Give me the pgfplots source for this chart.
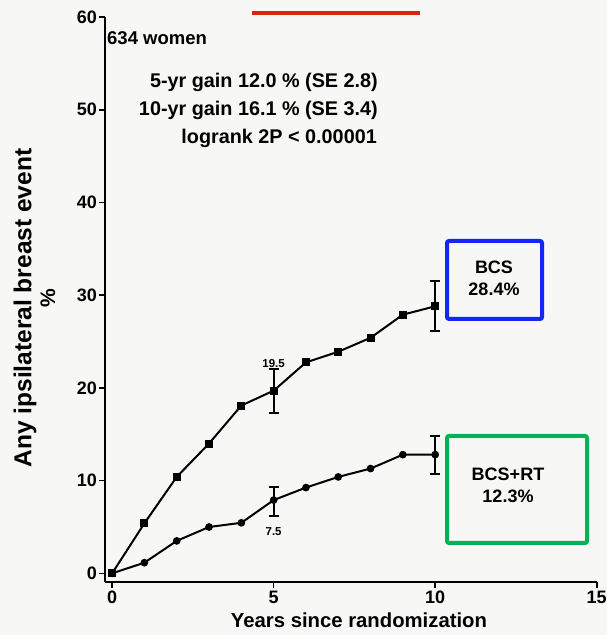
\documentclass[border=0pt]{standalone}
\usepackage{pgfplots}
\pgfplotsset{compat=1.18}
\usepackage{fontspec}
\setmainfont{Liberation Sans}
\definecolor{bcsblue}{RGB}{20,40,245}
\definecolor{rtgreen}{RGB}{0,180,85}
\definecolor{redline}{RGB}{215,35,15}
\definecolor{paper}{RGB}{247,247,245}
\begin{document}
\begin{tikzpicture}[x=1pt,y=1pt]
\fill[paper] (0,0) rectangle (607,635);
\useasboundingbox (0,0) rectangle (607,635);
\begin{axis}[at={(105pt,53.3pt)}, anchor=south west, scale only axis,
  width=491.7pt, height=564.7pt,
  xmin=-0.22, xmax=15, ymin=-0.9, ymax=60,
  axis x line*=bottom, axis y line*=left,
  axis line style={line width=2pt, black},
  xtick={0,5,10,15}, ytick={0,10,...,60},
  tick align=outside, major tick length=6pt,
  tick style={line width=1.6pt, black},
  ticklabel style={font=\fontsize{18}{22}\selectfont\bfseries, inner sep=2pt},
  xticklabel style={yshift=-1.5pt},
  /pgf/number format/assume math mode=true,
  clip=false,
]
\addplot[black, line width=2pt, mark=square*, mark size=3pt, mark options={solid}]
  coordinates {(0,0)(1,5.4)(2,10.4)(3,14.0)(4,18.1)(5,19.7)(6,22.75)(7,23.9)(8,25.4)(9,27.9)(10,28.8)};
\addplot[black, line width=2pt, mark=*, mark size=2.8pt]
  coordinates {(0,0)(1,1.15)(2,3.5)(3,5.0)(4,5.45)(5,7.9)(6,9.25)(7,10.4)(8,11.3)(9,12.8)(10,12.8)};
\addplot[black, line width=1.8pt, only marks, mark=*, mark size=0.5pt,
  error bars/.cd, y dir=both, y explicit,
  error bar style={line width=1.8pt, black},
  error mark options={rotate=90, mark size=5pt, line width=1.8pt, black}]
  coordinates {(5,19.7) += (0,2.3) -= (0,2.4)
               (10,28.8) += (0,2.7) -= (0,2.7)
               (5,7.9) += (0,1.4) -= (0,1.7)
               (10,12.8) += (0,2.0) -= (0,2.1)};
\node[font=\fontsize{11.5}{14}\selectfont\bfseries] at (axis cs:5,22.6) {19.5};
\node[font=\fontsize{11.5}{14}\selectfont\bfseries] at (axis cs:5,4.5) {7.5};
\end{axis}
% annotations
\node[anchor=base west, font=\fontsize{18.5}{24}\selectfont\bfseries, inner sep=0pt] at (107,590) {634 women};
\node[anchor=base east, font=\fontsize{19.8}{24}\selectfont\bfseries, inner sep=0pt] at (378,547) {5-yr gain 12.0 \% (SE 2.8)};
\node[anchor=base east, font=\fontsize{19.8}{24}\selectfont\bfseries, inner sep=0pt] at (378,519) {10-yr gain 16.1 \% (SE 3.4)};
\node[anchor=base east, font=\fontsize{19.8}{24}\selectfont\bfseries, inner sep=0pt] at (377,491) {logrank 2P < 0.00001};
\node[rotate=90, font=\fontsize{24.5}{30}\selectfont\bfseries, inner sep=0pt] at (25,327) {Any ipsilateral breast event};
\node[rotate=90, font=\fontsize{21}{26}\selectfont\bfseries, inner sep=0pt] at (48,337) {\%};
\node[anchor=base, font=\fontsize{20.3}{25}\selectfont\bfseries, inner sep=0pt] at (359,8) {Years since randomization};
\draw[bcsblue, line width=4pt, rounded corners=2pt] (447,316) rectangle (542,394);
\node[align=center, font=\fontsize{18}{22}\selectfont\bfseries, inner sep=0pt] at (494,357) {BCS\\28.4\%};
\draw[rtgreen, line width=4pt, rounded corners=2pt] (447,92) rectangle (587,199);
\node[align=center, font=\fontsize{18}{22}\selectfont\bfseries, inner sep=0pt] at (508,150) {BCS+RT\\12.3\%};
\draw[redline, line width=4pt] (252,622) -- (420,622);
\end{tikzpicture}
\end{document}
